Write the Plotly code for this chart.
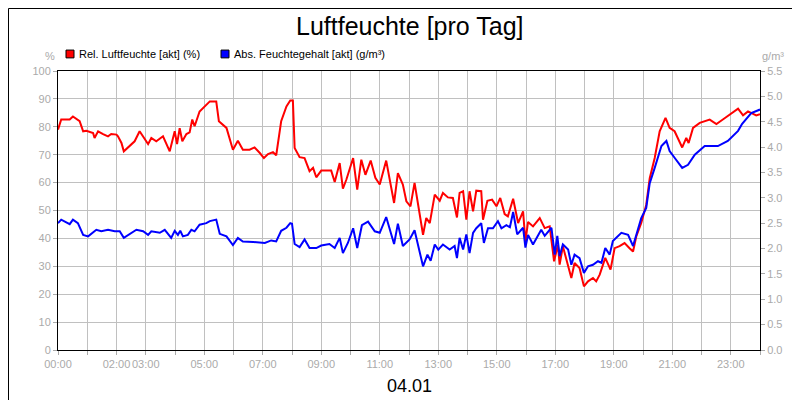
import plotly.graph_objects as go

rel_h = [0.0,0.11,0.4,0.51,0.74,0.86,0.97,1.2,1.25,1.37,1.54,1.71,1.82,2.0,2.05,2.17,2.25,2.45,2.62,2.79,3.08,3.19,3.36,3.59,3.82,3.99,4.07,4.16,4.25,4.39,4.5,4.59,4.67,4.84,5.07,5.19,5.41,5.5,5.76,5.98,6.15,6.32,6.55,6.72,6.9,7.04,7.18,7.35,7.46,7.63,7.81,7.94,8.03,
         8.09,8.26,8.43,8.6,8.72,8.83,9.0,9.34,9.46,9.63,9.74,9.86,10.09,10.23,10.37,10.51,10.69,10.85,11.0,11.22,11.49,11.62,11.79,11.91,12.05,12.19,12.36,12.48,12.59,12.71,12.88,13.05,13.16,13.33,13.5,13.64,13.73,13.85,13.96,14.07,14.19,14.3,14.47,14.53,14.68,14.84,14.99,15.12,15.27,15.38,15.56,
         15.73,15.9,15.98,16.07,16.24,16.47,16.64,16.81,16.96,17.09,17.15,17.26,17.44,17.55,17.66,17.83,17.98,18.12,18.29,18.4,18.52,18.71,18.89,19.03,19.2,19.37,19.54,19.66,19.77,19.94,20.11,20.23,20.4,20.57,20.77,20.91,21.08,21.25,21.34,21.48,21.56,21.71,21.94,22.28,22.51,22.73,23.02,23.25,23.42,23.59,23.87,24.0]
rel_v = [79.0,82.6,82.6,83.7,82.0,78.4,78.6,77.8,76.0,78.4,77.4,76.6,77.4,77.2,76.6,74.2,71.2,73.0,74.8,78.4,73.8,76.0,74.8,76.6,71.2,78.4,73.8,79.5,74.8,77.4,78.0,82.6,80.2,85.5,87.7,89.1,89.1,82.0,79.6,71.8,75.0,71.8,71.8,72.6,70.6,68.8,70.2,70.9,69.8,82.0,87.3,89.4,89.4,
         72.4,69.1,68.8,64.1,65.3,61.9,64.3,64.3,60.2,67.0,57.8,61.1,68.8,57.5,68.2,62.8,67.9,61.7,59.3,67.9,52.7,63.4,59.3,53.3,51.5,59.9,49.7,41.3,47.3,45.5,55.7,53.5,56.3,54.7,54.5,47.5,56.3,56.9,46.7,56.9,49.7,57.1,56.9,46.7,53.5,53.9,51.5,54.5,48.7,47.9,54.2,
         45.5,49.7,38.9,45.9,44.3,47.3,43.7,44.3,31.8,37.7,30.6,37.2,30.6,25.8,31.2,29.4,22.8,24.6,25.8,24.6,27.0,33.0,28.8,36.5,37.2,38.3,36.5,35.3,40.7,45.5,52.0,61.6,68.8,78.4,83.2,79.6,78.4,74.8,72.6,76.0,74.2,79.6,81.4,82.6,81.0,82.6,84.9,86.5,84.1,85.5,84.1,84.5]

abs_h = [0.0,0.11,0.4,0.51,0.68,0.86,1.03,1.2,1.31,1.48,1.71,1.94,2.11,2.25,2.68,2.91,3.08,3.19,3.48,3.65,3.87,3.99,4.1,4.18,4.27,4.44,4.56,4.67,4.84,5.07,5.19,5.41,5.53,5.76,5.98,6.15,6.32,6.67,7.07,7.29,7.46,7.63,7.81,7.94,
         8.0,8.09,8.26,8.43,8.6,8.83,9.0,9.28,9.46,9.63,9.74,9.91,10.09,10.23,10.39,10.6,10.83,11.0,11.22,11.49,11.62,11.79,12.02,12.19,12.48,12.63,12.74,12.88,13.0,13.16,13.39,13.56,13.64,13.73,13.85,13.96,14.07,14.19,14.3,14.47,14.56,14.7,14.87,15.04,15.16,15.33,15.45,15.56,15.7,15.84,
         15.9,15.98,16.07,16.24,16.41,16.52,16.64,16.87,16.98,17.07,17.15,17.26,17.44,17.55,17.66,17.83,17.98,18.12,18.29,18.46,18.58,18.71,18.86,18.97,19.26,19.49,19.66,19.77,19.94,20.11,20.23,20.4,20.63,20.8,20.91,21.08,21.34,21.54,21.77,22.11,22.56,22.9,23.25,23.39,23.7,24.0]
abs_v = [2.50,2.57,2.48,2.57,2.50,2.27,2.24,2.31,2.37,2.34,2.37,2.34,2.34,2.21,2.37,2.34,2.27,2.34,2.31,2.37,2.21,2.35,2.27,2.35,2.24,2.27,2.37,2.34,2.47,2.50,2.54,2.57,2.29,2.24,2.07,2.21,2.14,2.13,2.11,2.16,2.14,2.35,2.41,2.50,
         2.49,2.09,2.03,2.18,2.01,2.01,2.06,2.09,2.01,2.21,1.91,2.11,2.40,2.01,2.46,2.53,2.34,2.31,2.62,2.09,2.49,2.05,2.18,2.36,1.65,1.88,1.76,2.08,1.98,2.08,1.98,2.05,1.81,2.21,1.98,2.28,1.91,2.31,2.40,2.50,2.11,2.40,2.40,2.54,2.40,2.46,2.42,2.72,2.28,2.37,
         2.41,2.02,2.27,2.08,2.27,2.37,2.25,2.41,1.88,2.25,1.85,2.08,1.98,1.68,1.88,1.81,1.52,1.65,1.68,1.75,1.72,2.01,1.88,2.15,2.31,2.27,2.05,2.25,2.60,2.80,3.29,3.59,4.02,4.12,3.92,3.79,3.59,3.65,3.85,4.02,4.02,4.12,4.32,4.46,4.67,4.74]

tick_vals = list(range(0, 25))
tick_text = ["00:00","","02:00","03:00","","05:00","","07:00","","09:00","","11:00","","13:00","","15:00","","17:00","","19:00","","21:00","","23:00",""]
left_ticks = list(range(0, 101, 10))
right_ticks = [i * 0.5 for i in range(12)]

fig = go.Figure()
fig.add_trace(go.Scatter(x=rel_h, y=rel_v, mode="lines", line=dict(color="#ff0000", width=2), showlegend=False))
fig.add_trace(go.Scatter(x=abs_h, y=abs_v, mode="lines", line=dict(color="#0000ff", width=2), yaxis="y2", showlegend=False))

tickfont = dict(color="#aaaaaa", size=11, family="Liberation Sans")
base = dict(showline=True, linecolor="black", linewidth=1, ticks="outside", ticklen=4, tickcolor="#aaaaaa",
            tickfont=tickfont, zeroline=False, automargin=False, tickangle=0)
fig.update_layout(
    width=800, height=400, paper_bgcolor="white", plot_bgcolor="white",
    margin=dict(l=50, r=48, t=63, b=58, autoexpand=False),
    font=dict(family="Liberation Sans"),
    xaxis=dict(range=[0, 24], tickvals=tick_vals, ticktext=tick_text, mirror=True, gridcolor="#c0c0c0", **base),
    yaxis=dict(range=[0, 100], tickvals=left_ticks, gridcolor="#c0c0c0", **base),
    yaxis2=dict(range=[0, 5.5], tickvals=right_ticks, tickformat=".1f", overlaying="y", side="right", showgrid=False, **base),
    annotations=[
        dict(text="Luftfeuchte [pro Tag]", x=0.5, y=1.161, xref="paper", yref="paper", yanchor="middle", showarrow=False, font=dict(size=25, color="black")),
        dict(text="04.01", x=0.5, y=-0.129, xref="paper", yref="paper", yanchor="middle", showarrow=False, font=dict(size=18, color="black")),
        dict(text="%", x=-0.011, y=1.054, xref="paper", yref="paper", xanchor="center", yanchor="middle", showarrow=False, font=dict(size=11, color="#aaaaaa")),
        dict(text="g/m³", x=1.019, y=1.054, xref="paper", yref="paper", xanchor="center", yanchor="middle", showarrow=False, font=dict(size=11, color="#aaaaaa")),
        dict(text="Rel. Luftfeuchte [akt] (%)", x=0.0265, y=1.061, xref="paper", yref="paper", xanchor="left", yanchor="middle", showarrow=False, font=dict(size=11, color="black")),
        dict(text="Abs. Feuchtegehalt [akt] (g/m³)", x=0.2475, y=1.061, xref="paper", yref="paper", xanchor="left", yanchor="middle", showarrow=False, font=dict(size=11, color="black")),
    ],
    shapes=[
        dict(type="rect", xref="paper", yref="paper", x0=0.0114, x1=0.0228, y0=1.047, y1=1.075, fillcolor="#ff0000", line=dict(color="black", width=1)),
        dict(type="rect", xref="paper", yref="paper", x0=0.2322, x1=0.2436, y0=1.047, y1=1.075, fillcolor="#0000ff", line=dict(color="black", width=1)),
        dict(type="rect", xref="paper", yref="paper", x0=-0.0705, x1=1.0677, y0=-0.206, y1=1.224, line=dict(color="black", width=1)),
    ],
)
fig.write_html("out.html")
